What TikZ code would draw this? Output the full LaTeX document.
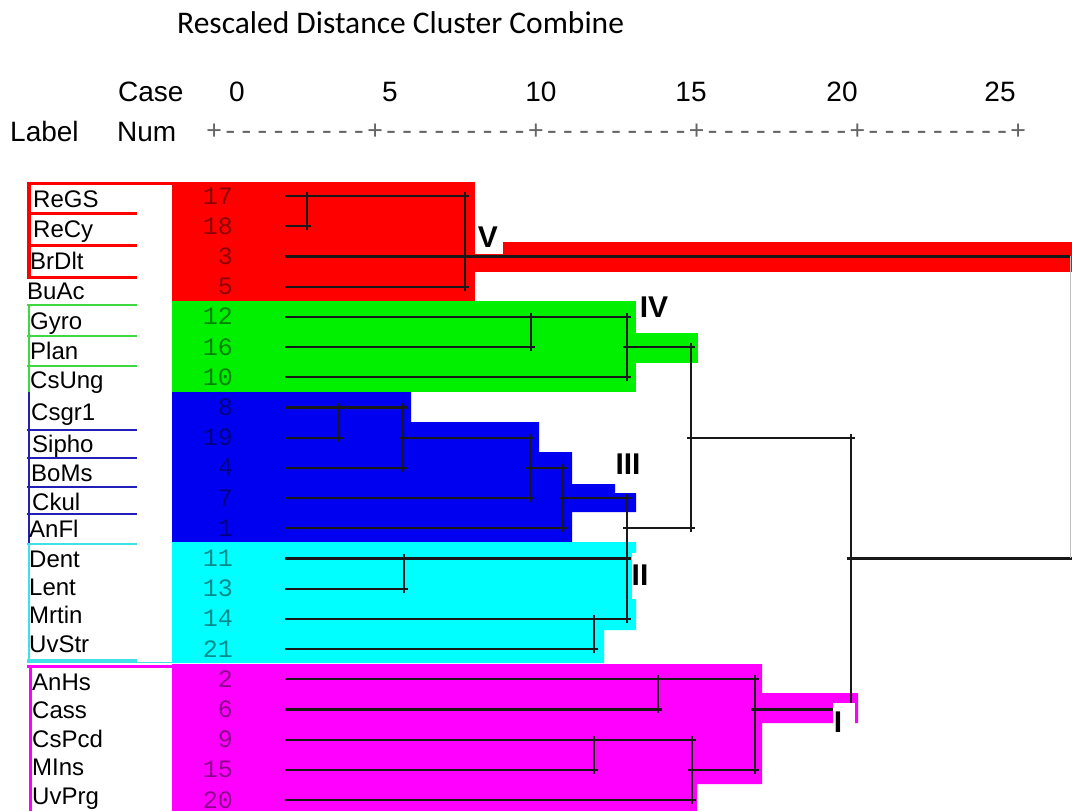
\documentclass[tikz,border=0pt]{standalone}
\usepackage{fontspec}
\setmainfont{Liberation Sans}
\newfontfamily\monof{Liberation Mono}
\newfontfamily\titlef{Carlito}
\definecolor{cRed}{HTML}{FF0000}
\definecolor{cGreen}{HTML}{00F000}
\definecolor{cBlue}{HTML}{0000F0}
\definecolor{cCyan}{HTML}{00FFFF}
\definecolor{cMag}{HTML}{FF00FF}
\definecolor{cGreenL}{HTML}{40D840}
\definecolor{cBlueL}{HTML}{2020B8}
\definecolor{cCyanL}{HTML}{40E0E8}

% row y position (in px) of dendrogram row #1
\newcommand\rowy[1]{196+30.2*(#1-1)}
% horizontal tree segment from x1 to x2 on a row
\newcommand\dhor[3]{\draw[tree] (#1,{\rowy{#3}}) -- ({#2+4},{\rowy{#3}});}
% vertical tree segment at x between two rows
\newcommand\dver[3]{\draw[tree] (#1,{\rowy{#2}-4}) -- (#1,{\rowy{#3}+4});}

\tikzset{
  lab/.style={anchor=base west, inner sep=0pt, font=\fontsize{24}{28}\selectfont},
  num/.style={anchor=base east, inner sep=0pt, font=\monof\fontsize{25}{28}\selectfont, text=black, text opacity=0.45},
  tree/.style={line width=2.2pt, black!90},
  roman/.style={inner sep=0pt, font=\bfseries\fontsize{30}{32}\selectfont},
  head/.style={anchor=base, inner sep=0pt, font=\fontsize{28}{30}\selectfont},
  deco/.style={line width=3pt},
}

\begin{document}
\begin{tikzpicture}[x=1pt,y=-1pt]
\fill[white] (0,0) rectangle (1072,811);
\useasboundingbox (0,0) rectangle (1072,811);

% ---------- header ----------
\node[anchor=base west, inner sep=0pt, font=\titlef\fontsize{31.5}{33}\selectfont] (title) at (177,34) {Rescaled Distance Cluster Combine};
\node[anchor=base west, inner sep=0pt, font=\fontsize{28}{30}\selectfont] (case) at (118,101) {Case};
\node[anchor=base west, inner sep=0pt, font=\fontsize{28}{30}\selectfont] (label) at (10,141) {Label};
\node[anchor=base west, inner sep=0pt, font=\fontsize{28}{30}\selectfont] (numh) at (117,141) {Num};
\foreach \v/\x in {0/237,5/390,10/541,15/691,20/842,25/1000}
  \node[head] (tick\v) at (\x,101) {\v};
\node[anchor=base west, inner sep=0pt, text=black!60, font=\monof\fontsize{26.8}{28}\selectfont] (ruler) at (206,139)
  {+---------+---------+---------+---------+---------+};

% ---------- cluster fills ----------
% V (red)
\fill[cRed] (172,182) rectangle (475,301);
\fill[cRed] (475,242) rectangle (1072,272);
% IV (green)
\fill[cGreen] (172,301) rectangle (636,392);
\fill[cGreen] (636,333) rectangle (698,363);
% III (blue)
\fill[cBlue] (172,392) -- (411,392) -- (411,422) -- (539,422) -- (539,452) -- (572,452)
  -- (572,484) -- (615,484) -- (615,493) -- (636,493) -- (636,512) -- (572,512)
  -- (572,542) -- (172,542) -- cycle;
% II (cyan)
\fill[cCyan] (172,542) -- (636,542) -- (636,630) -- (604,630) -- (604,663) -- (172,663) -- cycle;
% I (magenta)
\fill[cMag] (172,664) -- (762,664) -- (762,693) -- (858,693) -- (858,723) -- (762,723)
  -- (762,784) -- (697,784) -- (697,811) -- (172,811) -- cycle;

% ---------- label frames ----------
\draw[cRed, deco] (27,183.5) -- (172,183.5);
\draw[cRed, line width=4pt] (29,182) -- (29,279);
\foreach \yy in {213,245,277} \draw[cRed, deco] (27,\yy) -- (137,\yy);
\draw[cGreenL, line width=2.5pt] (29,304) -- (29,392);
\foreach \yy in {305,336,366} \draw[cGreenL, line width=2.5pt] (27,\yy) -- (137,\yy);
\draw[cBlueL, line width=2.5pt] (29,392) -- (29,543);
\foreach \yy in {430,458,487,514} \draw[cBlueL, line width=2.5pt] (27,\yy) -- (137,\yy);
\draw[cCyanL, line width=2.5pt] (27,544) -- (137,544);
\draw[cCyanL, line width=2.5pt] (29,544) -- (29,662);
\draw[cCyanL, line width=3.5pt] (27,661) -- (137,661);
\draw[cCyanL, line width=1.2pt] (137,662.5) -- (172,662.5);
\draw[cMag, deco] (27,666) -- (172,666);
\draw[cMag, deco] (30,666) -- (30,811);

% ---------- case labels and numbers ----------
\foreach \t/\lx/\ly/\n [count=\i] in {ReGS/33/207/17, ReCy/33/237/18, BrDlt/30/269/3, BuAc/27/299/5,
    Gyro/30/329/12, Plan/30/359/16, CsUng/30/388/10, Csgr1/31/420/8, Sipho/32/452/19, BoMs/31/481/4,
    Ckul/32/510/7, AnFl/29/537/1, Dent/29/567/11, Lent/29/595/13, Mrtin/29/623/14, UvStr/29/652/21,
    AnHs/32/690/2, Cass/32/718/6, CsPcd/32/747/9, MIns/32/775/15, UvPrg/32/804/20} {
  \node[lab] (lab\i) at (\lx,\ly) {\t};
  \node[num] (num\i) at (233,{\rowy{\i}+8}) {\n};
}

% ---------- dendrogram ----------
% cluster V
\dhor{285}{465}{1} \dhor{285}{307}{2} \dhor{285}{1066}{3} \dhor{285}{465}{4}
\dver{307}{1}{2} \dver{465}{1}{4}
% cluster IV
\dhor{285}{627}{5} \dhor{285}{531}{6} \dhor{285}{627}{7}
\dver{531}{5}{6} \dver{627}{5}{7}
\dhor{623}{691}{6}
% cluster III
\dhor{285}{403}{8} \dhor{285}{339}{9} \dver{339}{8}{9}
\dhor{285}{403}{10} \dver{403}{8}{10}
\dhor{399}{530}{9} \dhor{285}{530}{11} \dver{530}{9}{11}
\dhor{526}{563}{10} \dhor{285}{563}{12} \dver{563}{10}{12}
\dhor{559}{627}{11}
% cluster II
\dhor{285}{627}{13} \dhor{285}{404}{14} \dver{404}{13}{14}
\dhor{285}{627}{15} \dhor{285}{594}{16} \dver{594}{15}{16}
\dver{627}{11}{15}
\dhor{623}{691}{12}
\dver{691}{6}{12}
\dhor{687}{851}{9}
% cluster I
\dhor{285}{755}{17} \dhor{285}{658}{18} \dver{658}{17}{18}
\dhor{285}{692}{19} \dhor{285}{594}{20} \dver{594}{19}{20}
\dhor{285}{692}{21} \dver{692}{19}{21}
\dhor{688}{755}{20} \dver{755}{17}{20}
\dhor{751}{851}{18}
\dver{851}{9}{18}
\draw[tree] (847,{\rowy{13}}) -- (1072,{\rowy{13}});
\draw[black!25, line width=1pt] (1070,{\rowy{3}}) -- (1070,{\rowy{13}});

% ---------- cluster numerals ----------
\fill[white] (475,222) rectangle (503,254);
\node[roman] (rV) at (488,237) {V};
\node[roman] (rIV) at (654,307) {IV};
\node[roman] (rIII) at (628,464) {III};
\fill[white] (632,553) rectangle (650,599);
\node[roman] (rII) at (640,575) {II};
\fill[white] (833,703) rectangle (855,735);
\node[roman] (rI) at (838,722) {I};
\end{tikzpicture}
\end{document}
